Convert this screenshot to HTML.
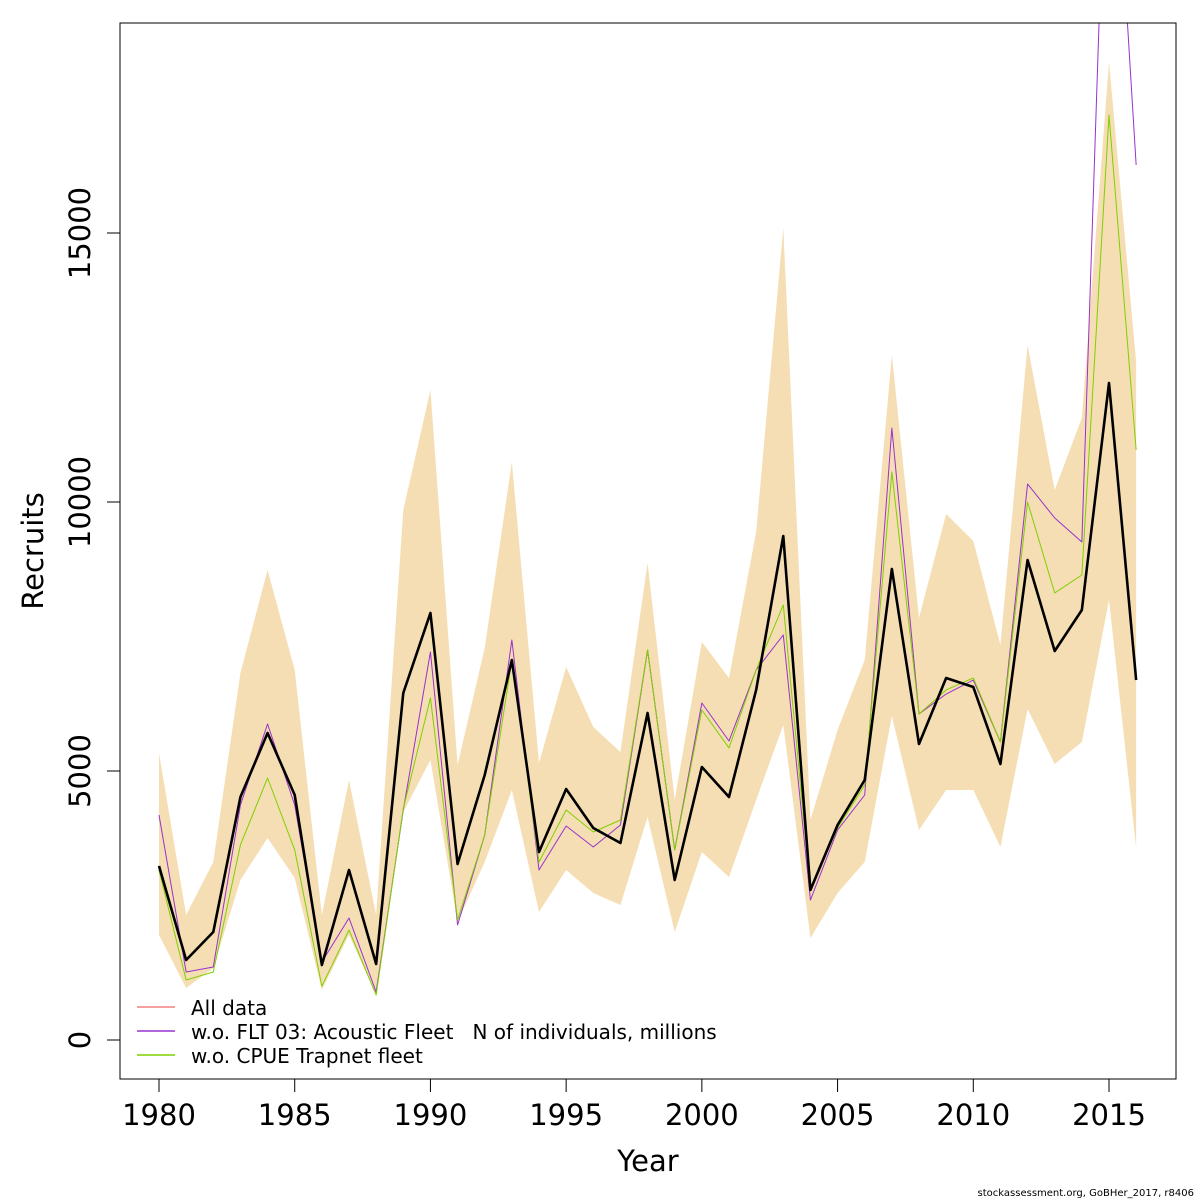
<!DOCTYPE html>
<html><head><meta charset="utf-8"><style>
html,body{margin:0;padding:0;background:#fff;}
svg{display:block;font-family:"DejaVu Sans","Liberation Sans",sans-serif;}
.leg text{white-space:pre;}
</style></head><body>
<svg id="chart" width="1200" height="1200" viewBox="0 0 1200 1200">
<defs><clipPath id="plotclip"><rect x="120" y="23" width="1056" height="1056"/></clipPath></defs>
<g id="band" clip-path="url(#plotclip)"></g>
<g id="lines" clip-path="url(#plotclip)"></g>
<rect x="120" y="23" width="1056" height="1056" fill="none" stroke="#000" stroke-width="1"/>
<g id="xaxis"></g>
<g id="yaxis"></g>
<text x="648" y="1171" font-size="29" text-anchor="middle">Year</text>
<text x="0" y="0" font-size="29" text-anchor="middle" transform="translate(43,551) rotate(-90)">Recruits</text>
<g class="leg">
<g><line x1="137" y1="1007" x2="175" y2="1007" stroke="#f08080" stroke-width="1.5"/><text x="191" y="1015" font-size="20">All data</text></g>
<g><line x1="137" y1="1031" x2="175" y2="1031" stroke="#9932cc" stroke-width="1.5"/><text x="191" y="1039" font-size="20" xml:space="preserve">w.o. FLT 03: Acoustic Fleet   N of individuals, millions</text></g>
<g><line x1="137" y1="1055" x2="175" y2="1055" stroke="#7fd000" stroke-width="1.5"/><text x="191" y="1063" font-size="20">w.o. CPUE Trapnet fleet</text></g>
</g>
<text x="1194" y="1196" font-size="10" text-anchor="end">stockassessment.org, GoBHer_2017, r8406</text>
</svg>
<script>
const years = [1980,1981,1982,1983,1984,1985,1986,1987,1988,1989,1990,1991,1992,1993,1994,1995,1996,1997,1998,1999,2000,2001,2002,2003,2004,2005,2006,2007,2008,2009,2010,2011,2012,2013,2014,2015,2016];
const allData = [3234,1487,2007,4517,5706,4554,1394,3160,1413,6450,7937,3271,4926,7063,3494,4665,3941,3662,6078,2974,5074,4517,6506,9368,2788,3996,4833,8755,5502,6729,6561,5130,8922,7230,7993,12212,6691];
const woFlt03 = [4182,1264,1357,4368,5874,4368,1450,2268,892,4275,7212,2138,3810,7435,3160,3978,3587,3996,7249,3532,6264,5558,6877,7528,2602,3903,4554,11375,6059,6431,6691,5539,10335,9703,9257,24500,16264];
const woCpue = [3160,1115,1264,3625,4870,3532,1000,2045,836,4300,6357,2230,3810,7063,3309,4275,3866,4089,7249,3532,6134,5428,6877,8086,2788,3941,4740,10558,6059,6506,6729,5539,10000,8309,8643,17193,10967];
const upper = [5335,2323,3309,6822,8736,6877,2323,4833,2323,9851,12082,5112,7286,10743,5149,6933,5818,5353,8866,4461,7398,6729,9442,15093,4089,5762,7063,12732,7844,9777,9275,7342,12918,10223,11561,18178,12602];
const lower = [1952,967,1338,2974,3755,3011,929,1952,836,4238,5204,2193,3309,4647,2379,3160,2732,2509,4145,2007,3494,3030,4461,5855,1896,2732,3309,6022,3903,4647,4647,3587,6152,5130,5539,8178,3569];
const xTicks = [1980,1985,1990,1995,2000,2005,2010,2015];
const yTicks = [0,5000,10000,15000];

const NS="http://www.w3.org/2000/svg";
const xS = y => 159 + (y-1980)*(950/35);
const yS = v => 1040 - v*(269/5000);
function mk(tag, attrs, parent){const e=document.createElementNS(NS,tag);for(const k in attrs)e.setAttribute(k,attrs[k]);parent.appendChild(e);return e;}

const band=document.getElementById('band');
let pts=years.map((y,i)=>xS(y)+','+yS(upper[i]));
for(let i=years.length-1;i>=0;i--)pts.push(xS(years[i])+','+yS(lower[i]));
const poly=mk('polygon',{points:pts.join(' '),fill:'#f5deb3',stroke:'none'},band);



const lines=document.getElementById('lines');
function line(arr,color,w,name){
  const p=mk('polyline',{points:years.map((y,i)=>xS(y)+','+yS(arr[i])).join(' '),fill:'none',stroke:color,'stroke-width':w,'stroke-linejoin':'round'},lines);
  
  
}
line(allData,'#f08080',1,'line-all-data-red');
line(woFlt03,'#9932cc',1,'line-wo-flt03');
line(woCpue,'#7fd000',1,'line-wo-cpue');
line(allData,'#000',2.6,'line-all-data');

const xa=document.getElementById('xaxis');
xTicks.forEach(t=>{
  mk('line',{x1:xS(t),x2:xS(t),y1:1079,y2:1092,stroke:'#000'},xa);
  const tx=mk('text',{x:xS(t),y:1125,'font-size':29,'text-anchor':'middle'},xa);
  tx.textContent=t;
  
  
});
const ya=document.getElementById('yaxis');
yTicks.forEach(t=>{
  mk('line',{x1:107,x2:120,y1:yS(t),y2:yS(t),stroke:'#000'},ya);
  const tx=mk('text',{x:0,y:0,'font-size':29,'text-anchor':'middle',transform:'translate(90,'+yS(t)+') rotate(-90)'},ya);
  tx.textContent=t;
  
  
});
</script>
</body></html>
